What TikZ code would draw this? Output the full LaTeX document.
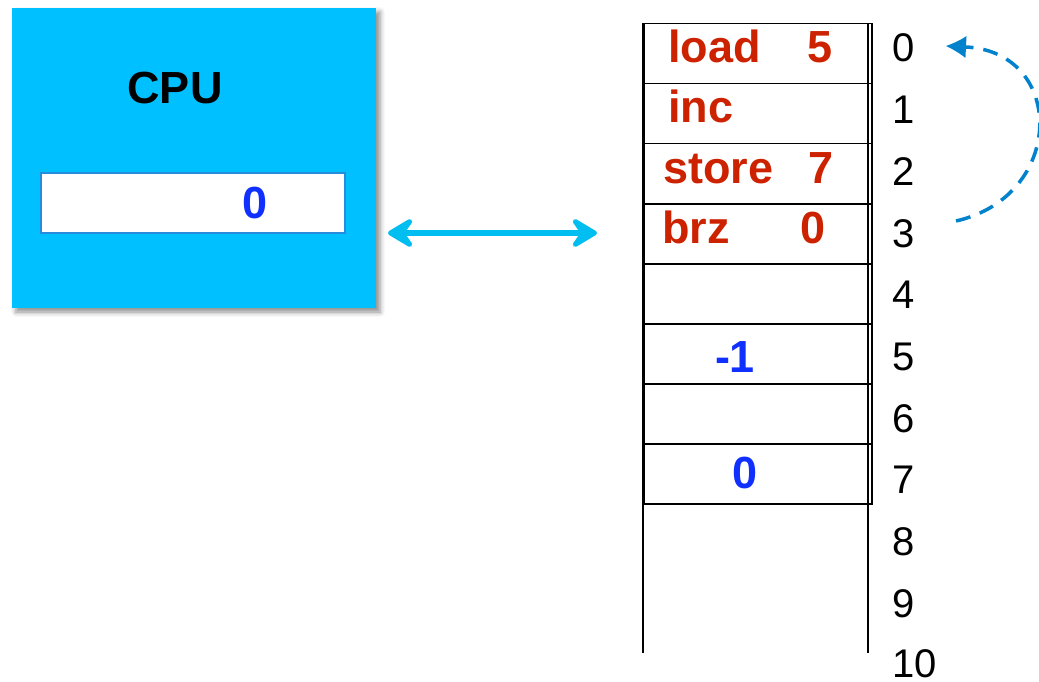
\documentclass[tikz,border=0pt]{standalone}
\usepackage{fontspec}
\setmainfont{Liberation Sans}
\usetikzlibrary{arrows.meta,shadows.blur,shadows}
\definecolor{cpublue}{RGB}{0,192,255}
\definecolor{arrowblue}{RGB}{0,190,240}
\definecolor{dashblue}{RGB}{0,130,205}
\definecolor{regline}{RGB}{40,140,220}
\definecolor{instred}{RGB}{204,34,0}
\definecolor{valblue}{RGB}{16,48,255}
\tikzset{
  cpubox/.style={fill=cpublue, draw=none, minimum width=364pt, minimum height=300pt, inner sep=0pt,
    blur shadow={shadow xshift=4pt, shadow yshift=-4pt, shadow blur radius=5pt, shadow opacity=45}},
  regbox/.style={fill=white, draw=regline, line width=1.5pt, minimum width=304pt, minimum height=60pt, inner sep=0pt},
  cell/.style={draw=black, line width=1.5pt, minimum width=228pt, minimum height=60pt, inner sep=0pt, anchor=north west},
  inst/.style={text=instred, font=\bfseries\fontsize{45}{45}\selectfont, anchor=base west, inner sep=0pt},
  val/.style={text=valblue, font=\bfseries\fontsize{45}{45}\selectfont, anchor=base, inner sep=0pt},
  addr/.style={text=black, font=\fontsize{40}{40}\selectfont, anchor=base west, inner sep=0pt},
  bus/.style={draw=arrowblue, line width=6pt, {Stealth[length=32pt,width=38pt,inset=13pt,round]}-{Stealth[length=32pt,width=38pt,inset=13pt,round]}},
  jump/.style={draw=dashblue, line width=3.5pt, dash pattern=on 15pt off 10pt, -{Latex[length=20pt,width=22pt,line width=0pt]}}
}
\begin{document}
\begin{tikzpicture}[x=1pt,y=-1pt]
\useasboundingbox (0,0) rectangle (1039,682);
% CPU
\node[cpubox] (cpu) at (194,158) {};
\node[font=\bfseries\fontsize{45}{45}\selectfont, anchor=base, inner sep=0pt] (cputxt) at (175,104) {CPU};
\node[regbox] (reg) at (193,203) {};
\node[val] (regval) at (255,218) {0};
% memory cells
\foreach \k in {0,...,7}{
  \node[cell] (m\k) at (643,{23+60*\k}) {};
}
\coordinate (lt) at (643,23);
\coordinate (lb) at (643,653);
\coordinate (rt) at (868,23);
\coordinate (rb) at (868,653);
\draw[line width=1.5pt] (lt) -- (lb);
\draw[line width=1.5pt] (rt) -- (rb);
% contents
\node[inst] (i0a) at (668,63) {load};
\node[inst] (i0b) at (807,63) {5};
\node[inst] (i1a) at (668,123) {inc};
\node[inst] (i2a) at (663,183) {store};
\node[inst] (i2b) at (808,183) {7};
\node[inst] (i3a) at (662,243) {brz};
\node[inst] (i3b) at (800,243) {0};
\node[val] (v5) at (735,372) {-1};
\node[val] (v7) at (745,488) {0};
% addresses
\foreach \n in {0,...,9}{
  \node[addr] (a\n) at (892,{62+61.7*\n}) {\n};
}
\node[addr] (a10) at (892,677) {10};
% bus arrow
\coordinate (busL) at (388,233);
\coordinate (busR) at (597,233);
\draw[bus] (busL) -- (busR);
% jump arrow
\coordinate (jfrom) at (956,221);
\coordinate (jto) at (946,46);
\draw[jump] (jfrom) .. controls (1066,196) and (1066,52) .. (jto);
\end{tikzpicture}
\end{document}
